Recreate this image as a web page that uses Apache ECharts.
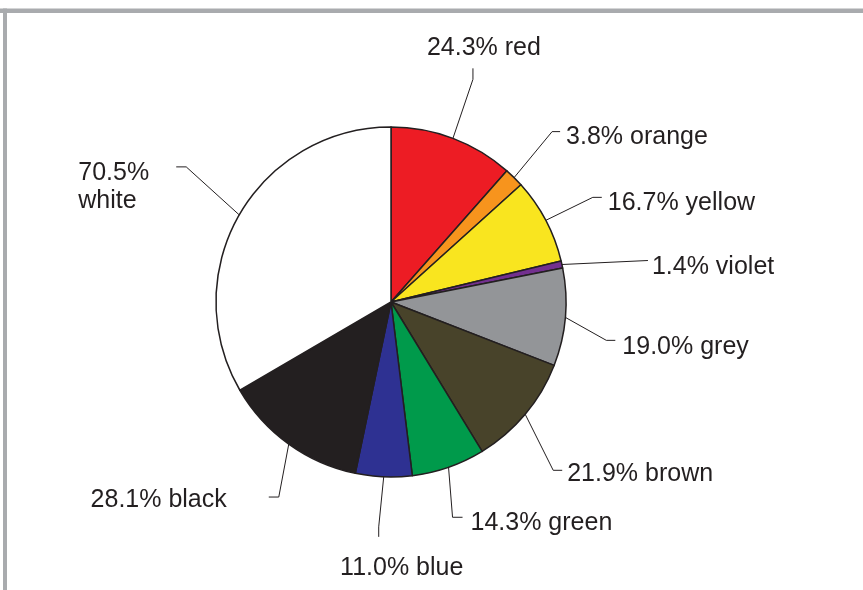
<!DOCTYPE html>
<html>
<head>
<meta charset="utf-8">
<script src="https://cdn.jsdelivr.net/npm/echarts@6/dist/echarts.min.js"></script>
<style>
html,body{margin:0;padding:0;background:#fff;}
#chart{width:863px;height:590px;}
</style>
</head>
<body>
<div id="chart"></div>
<script>
// ---- data ----
const categories = ['red', 'orange', 'yellow', 'violet', 'grey', 'brown', 'green', 'blue', 'black', 'white'];
const values = [24.3, 3.8, 16.7, 1.4, 19.0, 21.9, 14.3, 11.0, 28.1, 70.5];

// ---- styles ----
const sliceColors = ['#ed1c24', '#f7941d', '#f9e51f', '#73308f', '#939598', '#48432a', '#009a4b', '#2e3192', '#231f20', '#ffffff'];
// leader line: elbow offset from slice edge, end offset from elbow, label offset from end
const leader = [
  { m: [20, -59], t: [0, -11], l: [11, -20], align: 'center', va: 'middle', sep: ' ' },
  { m: [38, -46], t: [8, 0], l: [6, 5], align: 'left', va: 'middle', sep: ' ' },
  { m: [47, -23], t: [9, 0], l: [6, 6], align: 'left', va: 'middle', sep: ' ' },
  { m: [86, -4], t: [0, 0], l: [4, 7], align: 'left', va: 'middle', sep: ' ' },
  { m: [41, 23], t: [9, 0], l: [7, 7], align: 'left', va: 'middle', sep: ' ' },
  { m: [28, 56], t: [9, 0], l: [5, 4], align: 'left', va: 'middle', sep: ' ' },
  { m: [4, 50], t: [10, 0], l: [8, 6], align: 'left', va: 'middle', sep: ' ' },
  { m: [-5, 50], t: [0, 10], l: [23, 31], align: 'center', va: 'middle', sep: ' ' },
  { m: [-10, 53], t: [-10, 0], l: [-42, 3], align: 'right', va: 'middle', sep: ' ' },
  { m: [-53, -48], t: [-10, 0], l: [-98, -8], align: 'left', va: 'top', sep: '\n' }
];

const chart = echarts.init(document.getElementById('chart'), null, { renderer: 'canvas' });

const seriesData = categories.map((c, i) => ({
  name: c,
  value: values[i],
  itemStyle: { color: sliceColors[i] }
}));

chart.setOption({
  animation: false,
  backgroundColor: '#ffffff',
  graphic: [
    { type: 'rect', shape: { x: 0, y: 8.5, width: 863, height: 4.5 }, style: { fill: '#a9abae' }, silent: true },
    { type: 'rect', shape: { x: 3, y: 8.5, width: 4, height: 582 }, style: { fill: '#a9abae' }, silent: true }
  ],
  series: [{
    type: 'pie',
    center: [391, 302],
    radius: 175,
    startAngle: 90,
    clockwise: true,
    avoidLabelOverlap: false,
    data: seriesData,
    itemStyle: { borderColor: '#231f20', borderWidth: 1.5 },
    emphasis: { disabled: true },
    label: {
      show: true,
      position: 'outside',
      fontFamily: 'Liberation Sans, Arial, sans-serif',
      fontSize: 25,
      lineHeight: 28,
      color: '#231f20',
      formatter: p => p.value.toFixed(1) + '%' + leader[p.dataIndex].sep + p.name
    },
    labelLine: {
      show: true,
      length: 20,
      length2: 10,
      lineStyle: { color: '#231f20', width: 1 }
    },
    labelLayout: function (params) {
      const s = leader[params.dataIndex];
      const pts = params.labelLinePoints;
      if (!pts || !pts[0]) return {};
      const e = pts[0];
      const m = [e[0] + s.m[0], e[1] + s.m[1]];
      const t = [m[0] + s.t[0], m[1] + s.t[1]];
      return {
        x: t[0] + s.l[0],
        y: t[1] + s.l[1],
        align: s.align,
        verticalAlign: s.va,
        labelLinePoints: [e, m, t]
      };
    }
  }]
});
</script>
</body>
</html>
